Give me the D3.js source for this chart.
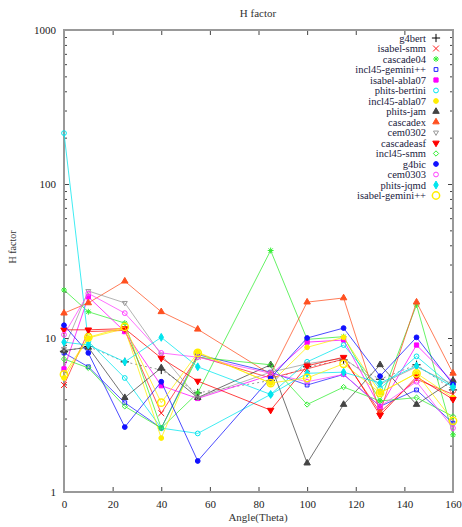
<!DOCTYPE html>
<html lang="en">
<head>
<meta charset="UTF-8">
<title>H factor</title>
<script src="https://cdn.jsdelivr.net/npm/d3@7"></script>
<style>
  body { margin: 0; background: #fff; }
  svg { display: block; }
  svg text { font-family: "Liberation Serif", "Times New Roman", "DejaVu Serif", serif; }
</style>
</head>
<body>
<div id="chart"></div>
<script>
// angles (deg) and H factor per code
var angles = [0, 10, 25, 40, 55, 85, 100, 115, 130, 145, 160];
var xTicks = [0, 20, 40, 60, 80, 100, 120, 140, 160];
var yTicks = [1, 10, 100, 1000];

var names = ["g4bert", "isabel-smm", "cascade04", "incl45-gemini++", "isabel-abla07",
  "phits-bertini", "incl45-abla07", "phits-jam", "cascadex", "cem0302", "cascadeasf",
  "incl45-smm", "g4bic", "cem0303", "phits-jqmd", "isabel-gemini++"];

var g4bert        = [8.2, 8.8, 7.0, 6.2, 4.4, 5.3, 6.5, 7.2, 5.4, 6.7, 4.6];
var isabelSmm     = [4.95, 11.0, 11.2, 3.25, 7.6, 5.5, 6.3, 7.3, 3.3, 5.4, 4.3];
var cascade04     = [20.5, 14.8, 12.5, 2.6, 4.4, 37, 9.8, 10.2, 3.9, 16.4, 2.35];
var incl45Gemini  = [8.0, 6.5, 3.8, 2.6, 7.8, 6.0, 4.95, 5.8, 3.6, 4.6, 2.8];
var isabelAbla07  = [6.3, 18.5, 11.0, 4.9, 4.05, 5.75, 9.4, 9.7, 3.55, 9.0, 5.2];
var phitsBertini  = [214, 9.5, 5.5, 2.6, 2.4, 4.3, 7.0, 9.0, 4.7, 7.6, 4.8];
var incl45Abla07  = [5.5, 10.0, 11.5, 2.24, 8.1, 5.1, 8.7, 10.1, 4.4, 5.9, 4.1];
var phitsJam      = [8.3, 8.7, 4.1, 6.4, 4.1, 6.7, 1.54, 3.7, 6.7, 3.7, 5.3];
var cascadex      = [14.5, 16.9, 23.4, 14.8, 11.4, 5.8, 17.1, 18.2, 3.3, 17.1, 5.9];
var cem0302       = [8.5, 20.2, 16.9, 7.8, 4.1, 6.0, 6.8, 7.4, 5.0, 6.5, 5.0];
var cascadeasf    = [11.3, 11.3, 11.5, 7.4, 5.25, 3.4, 6.6, 7.5, 3.15, 5.6, 4.0];
var incl45Smm     = [7.3, 6.4, 3.6, 2.6, 7.5, 6.7, 3.7, 4.8, 3.9, 4.1, 3.1];
var g4bic         = [12.1, 8.0, 2.64, 5.2, 1.59, 5.5, 10.0, 11.6, 5.65, 10.1, 5.0];
var cem0303       = [10.5, 19.5, 14.5, 8.0, 7.5, 5.9, 5.2, 5.8, 3.6, 5.2, 2.6];
var phitsJqmd     = [9.4, 9.0, 7.0, 10.1, 6.5, 4.3, 5.9, 6.0, 5.1, 6.6, 4.8];
var isabelGemini  = [5.8, 10.1, 11.8, 3.8, 8.0, 5.1, 5.5, 6.8, 4.4, 5.9, 2.9];

var values = [g4bert, isabelSmm, cascade04, incl45Gemini, isabelAbla07, phitsBertini,
  incl45Abla07, phitsJam, cascadex, cem0302, cascadeasf, incl45Smm, g4bic, cem0303,
  phitsJqmd, isabelGemini];

// d3 v7 has no asterisk symbol; build one
var symbolAsterisk = {
  draw: function (ctx, size) {
    var r = Math.sqrt(size) * 0.6;
    for (var i = 0; i < 4; i++) {
      var a = i * Math.PI / 4;
      ctx.moveTo(-r * Math.cos(a), -r * Math.sin(a));
      ctx.lineTo(r * Math.cos(a), r * Math.sin(a));
    }
  }
};

// style per series: color, symbol, filled, rotate
var styles = [
  {c: "#000000", s: d3.symbolPlus, f: false, dash: "2,3", lc: "#777"},
  {c: "#ff2020", s: d3.symbolTimes, f: false},
  {c: "#33ee33", s: symbolAsterisk, f: false},
  {c: "#2020ff", s: d3.symbolSquare2, f: false},
  {c: "#ff00ff", s: d3.symbolSquare, f: true},
  {c: "#00e5ee", s: d3.symbolCircle, f: false},
  {c: "#ffee00", s: d3.symbolCircle, f: true},
  {c: "#444444", s: d3.symbolTriangle, f: true},
  {c: "#ff5020", s: d3.symbolTriangle, f: true},
  {c: "#999999", s: d3.symbolTriangle2, f: false, r: 180},
  {c: "#ff0000", s: d3.symbolTriangle, f: true, r: 180},
  {c: "#33ee33", s: d3.symbolDiamond2, f: false},
  {c: "#1010ff", s: d3.symbolCircle, f: true},
  {c: "#ff40ff", s: d3.symbolCircle, f: false},
  {c: "#00e5ee", s: d3.symbolDiamond, f: true},
  {c: "#ffee00", s: d3.symbolCircle, f: false, big: true}
];

var W = 462, H = 527;
var m = {left: 64, right: 9, top: 30, bottom: 35};

var svg = d3.select("#chart").append("svg").attr("width", W).attr("height", H);

var x = d3.scaleLinear().domain([0, 160]).range([m.left, W - m.right]);
var y = d3.scaleLog().domain([1, 1000]).range([H - m.bottom, m.top]);

// minor log ticks
var minor = [];
[1, 10, 100].forEach(function (d) { for (var k = 2; k < 10; k++) minor.push(d * k); });

svg.append("g").attr("transform", "translate(0," + (H - m.bottom) + ")")
  .call(d3.axisBottom(x).tickValues(xTicks).tickSize(-5).tickPadding(8).tickFormat(d3.format("d")));
svg.append("g").attr("transform", "translate(0," + m.top + ")")
  .call(d3.axisTop(x).tickValues(xTicks).tickSize(-5).tickFormat(""));
svg.append("g").attr("transform", "translate(" + m.left + ",0)")
  .call(d3.axisLeft(y).tickValues(yTicks).tickSize(-5).tickPadding(8).tickFormat(d3.format("d")));
svg.append("g").attr("transform", "translate(" + m.left + ",0)")
  .call(d3.axisLeft(y).tickValues(minor).tickSize(-3).tickFormat(""));
svg.append("g").attr("transform", "translate(" + (W - m.right) + ",0)")
  .call(d3.axisRight(y).tickValues(yTicks).tickSize(-5).tickFormat(""));
svg.append("g").attr("transform", "translate(" + (W - m.right) + ",0)")
  .call(d3.axisRight(y).tickValues(minor).tickSize(-3).tickFormat(""));

svg.selectAll(".domain").remove();
svg.selectAll("g").attr("font-family", null);
svg.selectAll(".tick line").attr("stroke", "#444");
svg.selectAll(".tick text").attr("font-size", 11).attr("fill", "#222");

svg.append("rect")
  .attr("x", m.left).attr("y", m.top)
  .attr("width", W - m.left - m.right).attr("height", H - m.top - m.bottom)
  .attr("fill", "none").attr("stroke", "#999").attr("stroke-width", 2);

// title and axis labels
svg.append("text").attr("x", 258).attr("y", 17).attr("text-anchor", "middle")
  .attr("font-size", 11).attr("fill", "#333").text("H factor");
svg.append("text").attr("transform", "translate(16," + 247 + ") rotate(-90)")
  .attr("text-anchor", "middle").attr("font-size", 10).attr("fill", "#333").text("H factor");
svg.append("text").attr("x", 258).attr("y", 521).attr("text-anchor", "middle")
  .attr("font-size", 11).attr("fill", "#333").text("Angle(Theta)");

var line = d3.line().x(function (d) { return x(d[0]); }).y(function (d) { return y(d[1]); });

function symPath(st) {
  var size = st.big ? 42 : (st.s === d3.symbolPlus || st.s === d3.symbolTimes || st.s === symbolAsterisk ? 24 : 18);
  return d3.symbol().type(st.s).size(size)();
}

function drawMark(g, st, px, py) {
  g.append("path")
    .attr("d", symPath(st))
    .attr("transform", "translate(" + px + "," + py + ")" + (st.r ? " rotate(" + st.r + ")" : ""))
    .attr("fill", st.f ? st.c : "none")
    .attr("stroke", st.c)
    .attr("stroke-width", st.big ? 1.5 : 1);
}

var plot = svg.append("g");
values.forEach(function (vals, i) {
  var st = styles[i];
  var pts = angles.map(function (a, j) { return [a, vals[j]]; });
  plot.append("path").datum(pts)
    .attr("d", line)
    .attr("fill", "none")
    .attr("stroke", st.lc || st.c)
    .attr("stroke-opacity", 0.75)
    .attr("stroke-width", 1)
    .attr("stroke-dasharray", st.dash || null);
  var g = plot.append("g");
  pts.forEach(function (p) { drawMark(g, st, x(p[0]), y(p[1])); });
});

// legend
var leg = svg.append("g");
names.forEach(function (n, i) {
  var ly = 38 + i * 10.5;
  leg.append("text").attr("x", 426).attr("y", ly + 3.5).attr("text-anchor", "end")
    .attr("font-size", 10.5).attr("fill", "#1a1a40").text(n);
  drawMark(leg, styles[i], 436, ly);
});
</script>
</body>
</html>
